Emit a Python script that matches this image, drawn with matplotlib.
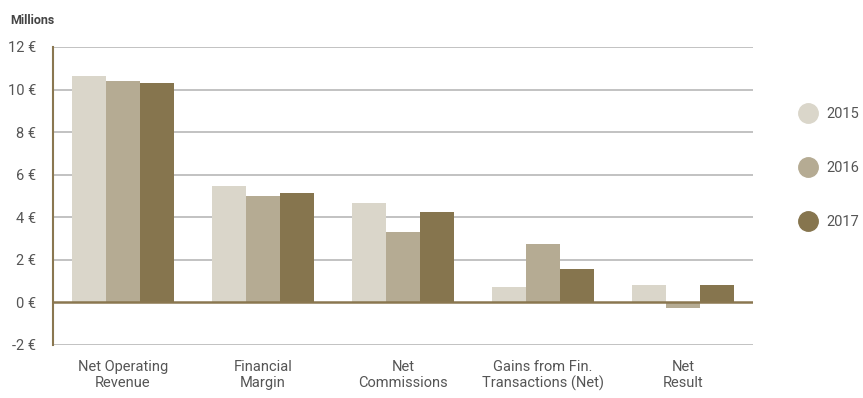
import numpy as np
import matplotlib
matplotlib.use("Agg")
from matplotlib import pyplot as plt
from matplotlib.lines import Line2D

# Figures in millions of euros
categories = ["Net Operating\nRevenue", "Financial\nMargin", "Net\nCommissions",
              "Gains from Fin.\nTransactions (Net)", "Net\nResult"]
years = ["2015", "2016", "2017"]
values_2015 = [10.65, 5.45, 4.65, 0.72, 0.80]
values_2016 = [10.40, 5.00, 3.30, 2.73, -0.27]
values_2017 = [10.30, 5.13, 4.25, 1.55, 0.80]
yticks = [-2, 0, 2, 4, 6, 8, 10, 12]

colors = ["#dad6ca", "#b5ab93", "#86754e"]
text_color = "#555555"
grid_color = "#bdbdbd"
axis_color = "#8a7750"

plt.rcParams["font.family"] = ["Roboto", "DejaVu Sans"]


def main():
    fig = plt.figure(figsize=(8.63, 3.98), dpi=100)
    ax = fig.add_axes([53 / 863, 1 - 345 / 398, 700 / 863, 298 / 398])

    series = [values_2015, values_2016, values_2017]
    x = np.arange(len(categories)) + 0.5
    width = 0.243
    for i, vals in enumerate(series):
        ax.bar(x + (i - 1) * width, vals, width, color=colors[i],
               label=years[i], zorder=2)

    ax.set_xlim(0, len(categories))
    ax.set_ylim(-2, 12)
    ax.set_yticks(yticks)
    ax.set_yticklabels([f"{t} €" for t in yticks])
    ax.set_xticks(x)
    ax.set_xticklabels(categories, linespacing=1.15)

    # horizontal grid, zero line and left axis in brown
    for t in yticks:
        if t != 0:
            ax.axhline(t, color=grid_color, lw=1.3, zorder=1)
    ax.axhline(0, color=axis_color, lw=1.8, zorder=3)

    for side in ["top", "right", "bottom"]:
        ax.spines[side].set_visible(False)
    ax.spines["left"].set_color(axis_color)
    ax.spines["left"].set_linewidth(1.5)

    ax.tick_params(axis="y", length=0, pad=12, labelsize=10.5,
                   labelcolor=text_color)
    ax.tick_params(axis="x", length=0, pad=11, labelsize=10.5,
                   labelcolor=text_color)

    fig.text(10 / 863, 1 - 20 / 398, "Millions", fontsize=9,
             fontweight="bold", color="#444444", va="center")

    handles = [Line2D([], [], marker="o", ls="", markersize=14,
                      markerfacecolor=c, markeredgecolor=c) for c in colors]
    fig.legend(handles, years, loc="center left",
               bbox_to_anchor=(780 / 863, 1 - 168 / 398), frameon=False,
               labelspacing=2.75, handletextpad=0.3, fontsize=10.5,
               labelcolor=text_color)

    fig.savefig("out.png", dpi=100)


if __name__ == "__main__":
    main()
